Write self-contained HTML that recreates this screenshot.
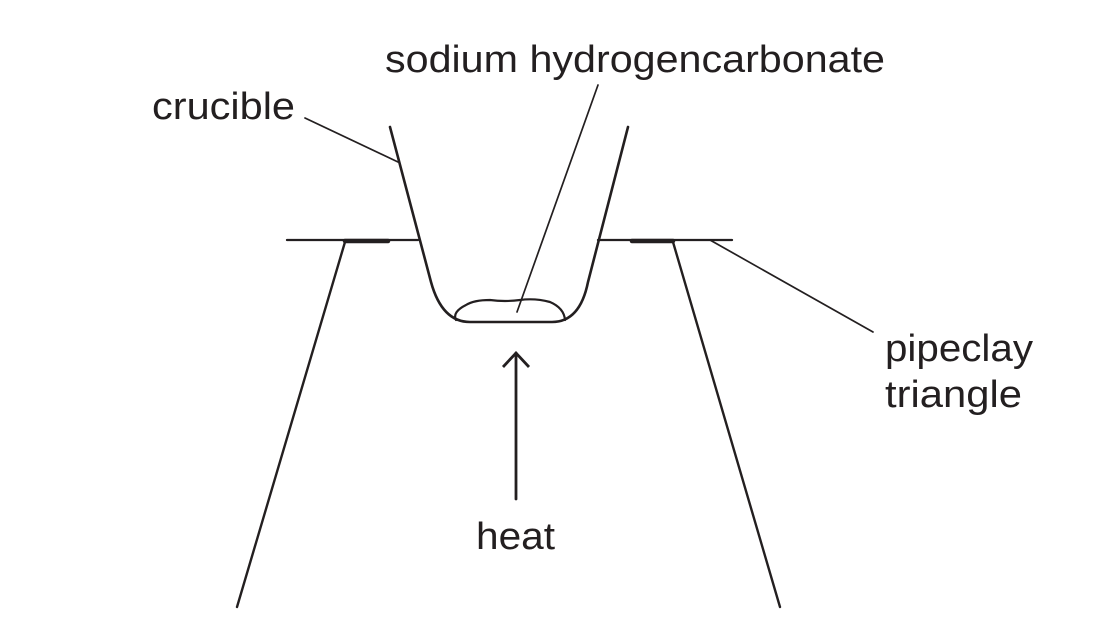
<!DOCTYPE html>
<html><head><meta charset="utf-8"><style>html,body{margin:0;padding:0;background:#fff}svg{display:block}</style></head>
<body>
<svg width="1099" height="634" viewBox="0 0 1099 634" xmlns="http://www.w3.org/2000/svg">
<g fill="none" stroke="#231f20" stroke-linecap="round">
<line x1="287" y1="240" x2="418" y2="240" stroke-width="2.3"/>
<line x1="598" y1="240" x2="732" y2="240" stroke-width="2.3"/>
<line x1="345" y1="241" x2="388" y2="241" stroke-width="4.5"/>
<line x1="632" y1="241" x2="673" y2="241" stroke-width="4.5"/>
<line x1="345" y1="242" x2="237" y2="607" stroke-width="2.4"/>
<line x1="673" y1="242" x2="780" y2="607" stroke-width="2.4"/>
<path d="M390 127 L431 282 Q442 322 470 322 L552 322 Q580 322 588 282 L628 127" stroke-width="2.6"/>
<path d="M456 320 Q452 312 466 305 Q474 300 490 300 Q505 302 520 300 Q535 298 550 302 Q564 308 565 320" stroke-width="2.2"/>
<line x1="598" y1="85" x2="517" y2="312" stroke-width="1.7"/>
<line x1="305" y1="118" x2="398" y2="162" stroke-width="1.7"/>
<line x1="710" y1="240" x2="873" y2="332" stroke-width="1.7"/>
<line x1="516" y1="353" x2="516" y2="499" stroke-width="2.8"/>
<polyline points="503,367 516,353 529,367" stroke-width="2.8" stroke-linecap="butt"/>
</g>
<g font-family="Liberation Sans, sans-serif" font-size="38" fill="#231f20">
<text x="385" y="72" textLength="500" lengthAdjust="spacingAndGlyphs">sodium hydrogencarbonate</text>
<text x="152" y="119" textLength="143" lengthAdjust="spacingAndGlyphs">crucible</text>
<text x="885" y="361" textLength="148" lengthAdjust="spacingAndGlyphs">pipeclay</text>
<text x="885" y="407" textLength="137" lengthAdjust="spacingAndGlyphs">triangle</text>
<text x="476" y="549" textLength="79" lengthAdjust="spacingAndGlyphs">heat</text>
</g>
</svg>
</body></html>
